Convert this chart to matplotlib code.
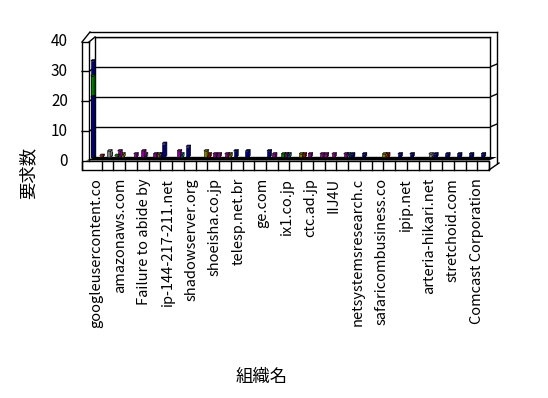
import matplotlib.pyplot as plt
from matplotlib.patches import Polygon
from matplotlib.transforms import offset_copy

plt.rcParams['font.family'] = ['Noto Sans CJK JP', 'DejaVu Sans']

# 組織名 (ラベルは1つおきに表示)
org_labels = ['googleusercontent.co', 'amazonaws.com', 'Failure to abide by',
              'ip-144-217-211.net', 'shadowserver.org', 'shoeisha.co.jp',
              'telesp.net.br', 'ge.com', 'ix1.co.jp', 'ctc.ad.jp', 'IIJ4U',
              'netsystemsresearch.c', 'safaricombusiness.co', 'ipip.net',
              'arteria-hikari.net', 'stretchoid.com', 'Comcast Corporation']
n_orgs = 33
y_ticks = [0, 10, 20, 30, 40]

# 要求数 (系列ごと, 奥 -> 手前)
navy_back2 = [0, 0, 0, 0, 0, 1, 0, 0, 0, 0, 0,
              0, 0, 0, 2, 0, 0, 0, 0, 0, 0, 1,
              1, 0, 0, 1, 1, 0, 1, 1, 1, 1, 1]
red = [0.5, 0, 0, 0, 0, 0, 0, 0, 0, 1, 0,
       0, 0, 0, 0, 0, 0, 1, 0, 0, 0, 0,
       0, 0, 1, 0, 0, 0, 0, 0, 0, 0, 0]
magenta2 = [0, 0, 0, 1, 0, 0, 0, 0, 0, 0, 1,
            0, 0, 0, 0, 0, 0, 0, 0, 1, 0, 0,
            0, 0, 0, 0, 0, 0, 0, 0, 0, 0, 0]
olive = [0, 0, 1, 0, 0, 1, 0, 0, 0, 2, 0,
         1, 0, 0, 0, 0, 0, 1, 0, 0, 0, 0,
         0, 0, 1, 0, 0, 0, 0, 0, 0, 0, 0]
teal = [0, 1, 0, 0, 0, 0, 0, 1, 0, 0, 0,
        0, 0, 0, 0, 0, 1, 0, 0, 0, 0, 1,
        0, 0, 0, 0, 0, 0, 0, 0, 0, 0, 0]
gray = [0, 2, 0, 0, 1, 0, 0, 0, 0, 0, 0,
        0, 0, 0, 0, 0, 0, 0, 0, 0, 0, 0,
        0, 0, 0, 0, 0, 0, 1, 0, 0, 0, 0]
magenta = [0, 0, 2, 0, 2, 1, 0, 2, 0, 0, 1,
           1, 0, 0, 0, 1, 1, 0, 1, 1, 1, 1,
           0, 0, 0, 0, 0, 0, 0, 0, 0, 0, 0]
navy_back = [32, 0, 0, 0, 0, 0, 0, 0, 0, 0, 0,
             0, 0, 0, 0, 0, 0, 0, 0, 0, 0, 0,
             0, 0, 0, 0, 0, 0, 0, 0, 0, 0, 0]
green = [27, 0, 0.5, 0, 0, 0, 0, 0, 0, 0, 0,
         0, 0, 0, 0, 0, 1, 0, 0, 0, 0, 0,
         0, 0, 0, 0, 0, 0, 0, 0, 0, 0, 0]
navy_front = [20, 0, 0, 0, 0, 0, 4.5, 0, 3.5, 0, 0,
              0, 2, 2, 0, 0, 0, 0, 0, 0, 0, 0,
              0, 0, 0, 0, 0, 0, 0, 0, 0, 0, 0]

# (値, 色, 奥行きずれ)
series = [
    (navy_back2, '#000080', 0.5),
    (red, '#b00000', 0.45),
    (magenta2, '#900090', 0.3),
    (olive, '#808000', 0.2),
    (teal, '#008080', 0.15),
    (gray, '#808080', 0.1),
    (magenta, '#900090', -0.05),
    (navy_back, '#000080', -0.3),
    (green, '#008000', -0.3),
    (navy_front, '#000080', -0.3),
]

W, H = 548, 398
fig = plt.figure(figsize=(W / 100, H / 100), dpi=100)
fig.patch.set_facecolor('white')

# 背面の壁
left, top, right, floor = 95, 37, 490, 157
ax = fig.add_axes([left / W, (H - floor) / H, (right - left) / W, (floor - top) / H], zorder=2)
ax.set_xlim(-0.084, -0.084 + (right - left) / 11.9)
ax.set_ylim(0, 40)
ax.set_yticks(y_ticks)
ax.set_xticks([])
ax.tick_params(length=0, labelleft=False)
ax.grid(axis='y', color='black', lw=1)
ax.set_axisbelow(True)
for s in ['left', 'top', 'right']:
    ax.spines[s].set_color('black')
    ax.spines[s].set_linewidth(1)
ax.spines['bottom'].set_visible(False)

w, sx, sy = 0.28, 0.12, 0.5
for vals, col, off in series:
    for i, v in enumerate(vals):
        if v <= 0:
            continue
        x = i + off
        ax.bar(x, v, width=w, color=col, edgecolor='black', lw=0.4, zorder=3, clip_on=False)
        ax.add_patch(Polygon([(x + w / 2, 0), (x + w / 2 + sx, sy), (x + w / 2 + sx, v + sy), (x + w / 2, v)],
                             closed=True, facecolor=col, edgecolor='black', lw=0.4, zorder=3, clip_on=False))
        ax.add_patch(Polygon([(x - w / 2, v), (x + w / 2, v), (x + w / 2 + sx, v + sy), (x - w / 2 + sx, v + sy)],
                             closed=True, facecolor=col, edgecolor='black', lw=0.4, zorder=3, clip_on=False))

# 目盛りラベル (手前の壁)
ytr = offset_copy(ax.get_yaxis_transform(), fig=fig, x=-27, y=-4, units='dots')
for t in y_ticks:
    ax.text(0, t, str(t), transform=ytr, ha='right', va='center', fontsize=11, clip_on=False)

xtr = offset_copy(ax.transData, fig=fig, x=0, y=-21, units='dots')
for j, lab in enumerate(org_labels):
    ax.text(2 * j, 0, lab, transform=xtr, rotation=90, ha='center', va='top', fontsize=10.5, clip_on=False)

# 3Dの枠 (ピクセル座標)
fr = fig.add_axes([0, 0, 1, 1], zorder=1)
fr.set_xlim(0, W)
fr.set_ylim(H, 0)
fr.axis('off')
fr.patch.set_visible(False)
k = dict(color='black', lw=1)
fr.add_patch(Polygon([(left, floor), (497, floor), (489, 160.5), (86, 160.5)], closed=True, facecolor='black'))
fr.add_patch(Polygon([(82, 160.5), (489, 160.5), (489, 170), (82, 170)], closed=True, facecolor='white', edgecolor='black', lw=1))
for c in range(n_orgs + 1):
    xc = 101.7 + c * (489 - 101.7) / n_orgs
    fr.plot([xc, xc], [160.5, 170], **k)
fr.plot([489, 499], [170, 163], **k)
fr.plot([497, 497], [32, 163], **k)
fr.plot([90, 497], [32, 32], **k)
fr.plot([82, 90], [42, 32], **k)
fr.plot([89, 95], [42, 37], **k)
fr.plot([82, 89], [42, 42], **k)
fr.plot([82, 82], [42, 170], **k)
fr.plot([89, 89], [42, 160.5], **k)
for t in y_ticks[1:-1]:
    yb = floor - (floor - top) * t / 40
    fr.plot([82, 89, 95], [yb + 4.5, yb + 4.5, yb], **k)
    fr.plot([490, 497], [yb, yb - 3], **k)

fig.text(28 / W, 1 - 173 / H, '要求数', rotation=90, ha='center', va='center', fontsize=12.5)
fig.text(262 / W, 1 - 377 / H, '組織名', ha='center', va='center', fontsize=12.5)

fig.savefig('out.png', dpi=100, facecolor='white')
